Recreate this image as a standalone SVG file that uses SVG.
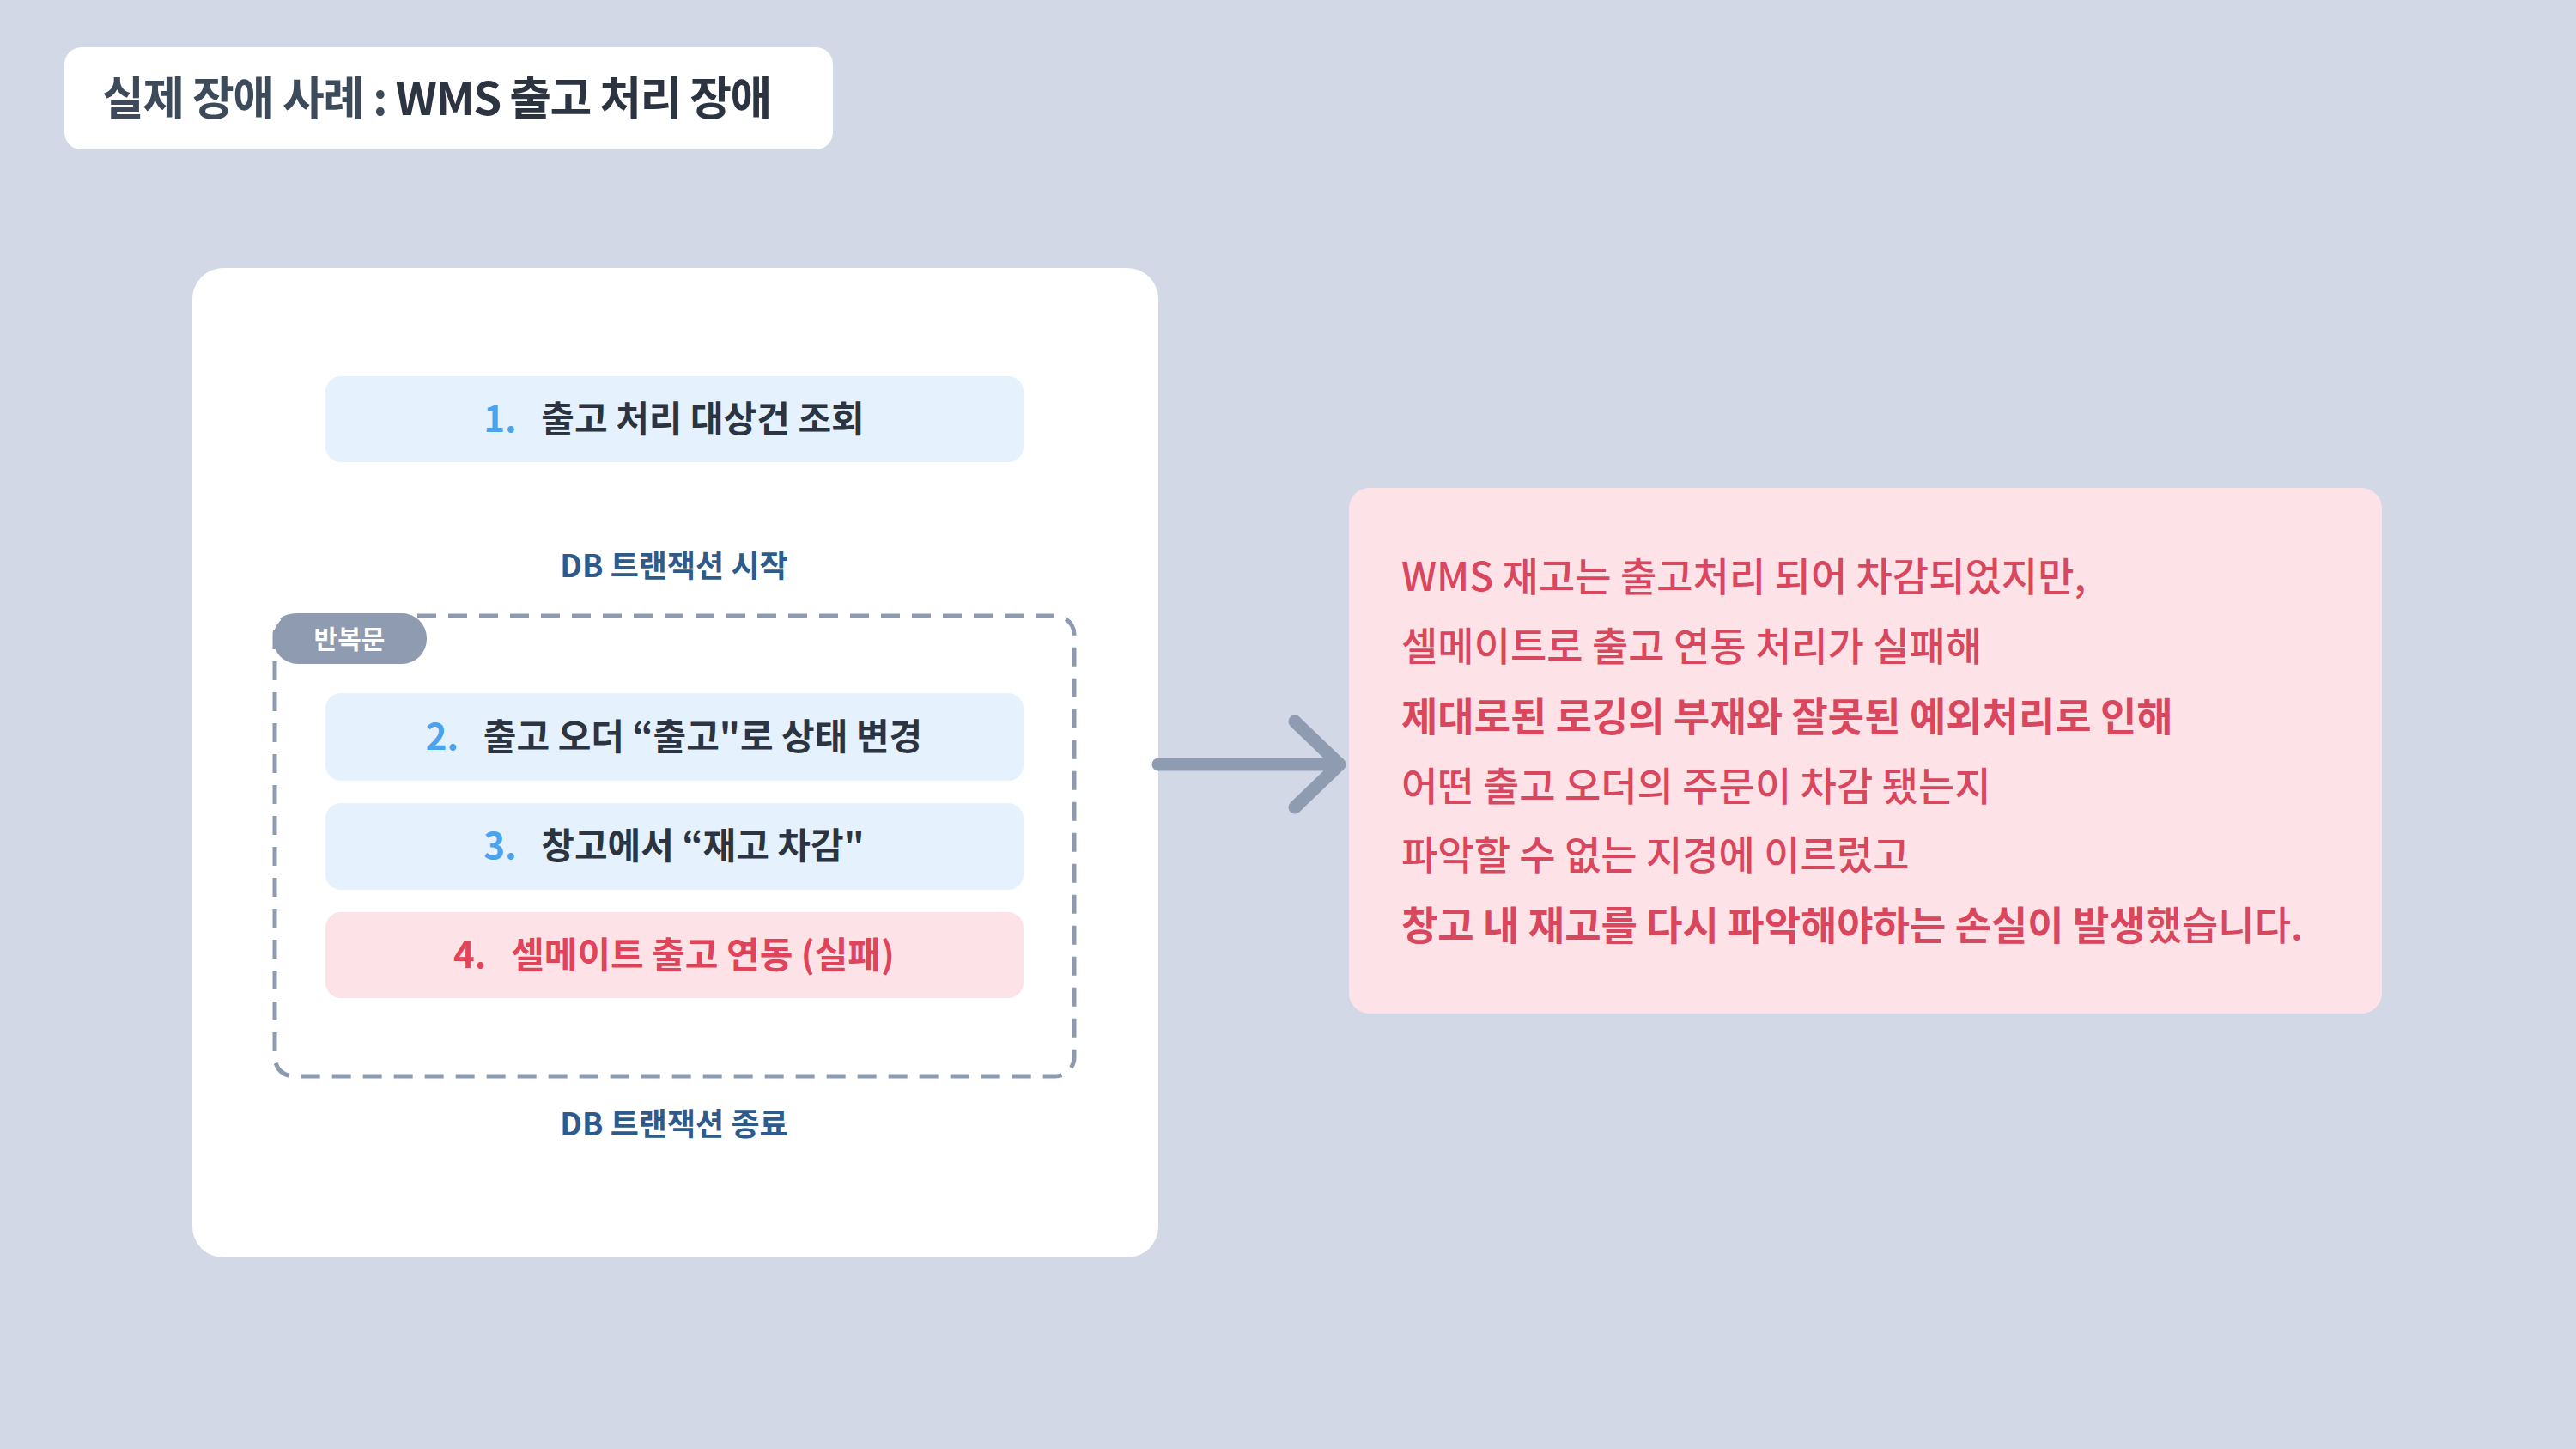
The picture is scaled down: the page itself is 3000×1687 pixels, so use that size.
<svg xmlns="http://www.w3.org/2000/svg" width="3000" height="1687" viewBox="0 0 3000 1687">
<style>
text{font-family:"Noto Sans CJK KR","Noto Sans",sans-serif;white-space:pre}
.step{fill:#e5f1fc}
.st{font-size:42px;font-weight:700;fill:#2b3440;text-anchor:middle}
.num{fill:#4ba3ee}
.red{fill:#e0435a}
.db{font-size:36px;font-weight:700;fill:#2f5b8c;text-anchor:middle}
.pt{font-size:46px;fill:#d9475e;font-weight:500}
.b{font-weight:700}
</style>
<rect width="3000" height="1687" fill="#d2d8e5"/>
<g id="title">
<rect x="75" y="55" width="895" height="119" rx="20" fill="#fff"/>
<text x="119" y="134" font-size="53" font-weight="700" fill="#2b3440" letter-spacing="-1.5"><tspan fill="#3d4a5a">실제 장애 사례 :</tspan> WMS 출고 처리 장애</text>
</g>
<g id="card">
<rect x="224" y="312" width="1125" height="1152" rx="36" fill="#fff"/>
</g>
<g id="step1">
<rect class="step" x="379" y="438" width="813" height="100" rx="18"/>
<text class="st" x="785" y="503" xml:space="preserve"><tspan class="num">1.</tspan>   출고 처리 대상건 조회</text>
</g>
<g id="dbstart"><text class="db" x="785" y="672">DB 트랜잭션 시작</text></g>
<g id="loop">
<rect x="320" y="717" width="931" height="536" rx="22" fill="none" stroke="#8d9bb0" stroke-width="5" stroke-dasharray="22 14"/>
<rect x="318" y="714" width="179" height="59" rx="29" fill="#8e9bb0"/>
<text x="407" y="755" font-size="30" font-weight="700" fill="#fff" text-anchor="middle">반복문</text>
</g>
<g id="step2">
<rect class="step" x="379" y="807" width="813" height="102" rx="18"/>
<text class="st" x="785" y="873" xml:space="preserve"><tspan class="num">2.</tspan>   출고 오더 “출고"로 상태 변경</text>
</g>
<g id="step3">
<rect class="step" x="379" y="935" width="813" height="101" rx="18"/>
<text class="st" x="785" y="1000" xml:space="preserve"><tspan class="num">3.</tspan>   창고에서 “재고 차감"</text>
</g>
<g id="step4">
<rect x="379" y="1062" width="813" height="100" rx="18" fill="#fde3e7"/>
<text class="st red" x="785" y="1127" xml:space="preserve">4.   셀메이트 출고 연동 (실패)</text>
</g>
<g id="dbend"><text class="db" x="785" y="1322">DB 트랜잭션 종료</text></g>
<g id="connectors">
<path d="M1349 890H1556M1508 840L1560 890L1508 940" fill="none" stroke="#8e9bb0" stroke-width="15" stroke-linecap="round" stroke-linejoin="round"/>
</g>
<g id="result">
<rect x="1571" y="568" width="1203" height="612" rx="24" fill="#fde3e7"/>
<text class="pt" x="1632" y="688">WMS 재고는 출고처리 되어 차감되었지만,</text>
<text class="pt" x="1632" y="769">셀메이트로 출고 연동 처리가 실패해</text>
<text class="pt b" x="1632" y="851">제대로된 로깅의 부재와 잘못된 예외처리로 인해</text>
<text class="pt" x="1632" y="932">어떤 출고 오더의 주문이 차감 됐는지</text>
<text class="pt" x="1632" y="1012">파악할 수 없는 지경에 이르렀고</text>
<text class="pt" x="1632" y="1094"><tspan class="b">창고 내 재고를 다시 파악해야하는 손실이 발생</tspan>했습니다.</text>
</g>
</svg>
